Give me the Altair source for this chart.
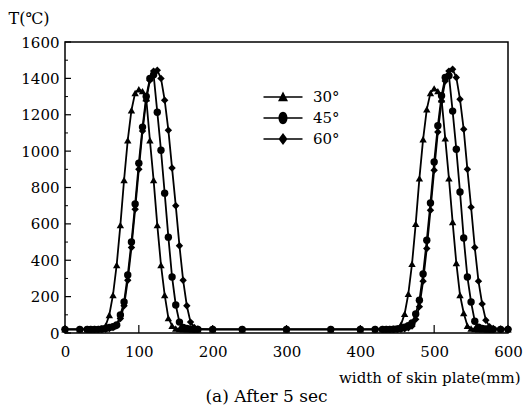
import altair as alt
import pandas as pd

# ---- data ----
x_mm = [
    0, 20, 30, 35, 40, 45, 50, 55, 60, 65,
    70, 75, 80, 85, 90, 95, 100, 105, 110, 115,
    120, 125, 130, 135, 140, 145, 150, 155, 160, 165,
    170, 175, 180, 200, 240, 300, 360, 400, 420, 430,
    435, 440, 445, 450, 455, 460, 465, 470, 475, 480,
    485, 490, 495, 500, 505, 510, 515, 520, 525, 530,
    535, 540, 545, 550, 555, 560, 565, 570, 575, 580,
    590, 600,
]
temp_30 = [
    20, 20, 20, 21, 22, 22, 25, 40, 99, 209,
    374, 593, 841, 1060, 1225, 1320, 1340, 1330, 1290, 1060,
    841, 593, 374, 209, 82, 40, 25, 22, 20, 20,
    20, 20, 20, 20, 20, 20, 20, 20, 20, 20,
    21, 22, 23, 26, 45, 105, 215, 380, 600, 850,
    1065, 1230, 1320, 1345, 1330, 1285, 1070, 850, 610, 385,
    209, 110, 40, 25, 22, 20, 20, 20, 20, 20,
    20, 20,
]
temp_45 = [
    20, 20, 20, 20, 20, 20, 22, 25, 30, 35,
    44, 99, 170, 319, 500, 709, 934, 1132, 1300, 1400,
    1420, 1214, 1005, 769, 527, 308, 154, 60, 30, 25,
    22, 20, 20, 20, 20, 20, 20, 20, 20, 20,
    20, 20, 21, 22, 26, 32, 40, 55, 105, 180,
    325, 510, 715, 940, 1140, 1305, 1405, 1415, 1220, 1010,
    775, 522, 308, 170, 65, 32, 25, 22, 20, 20,
    20, 20,
]
temp_60 = [
    20, 20, 20, 20, 20, 20, 21, 22, 25, 30,
    40, 80, 150, 290, 470, 680, 900, 1110, 1280, 1390,
    1440, 1445, 1400, 1280, 1115, 907, 700, 480, 290, 150,
    60, 30, 22, 20, 20, 20, 20, 20, 20, 20,
    20, 20, 20, 20, 21, 23, 28, 38, 75, 145,
    285, 465, 675, 895, 1105, 1275, 1385, 1440, 1450, 1405,
    1285, 1120, 900, 692, 470, 285, 160, 70, 35, 25,
    22, 22,
]
series_labels = ["30°", "45°", "60°"]
x_ticks = [0, 100, 200, 300, 400, 500, 600]
y_ticks = [0, 200, 400, 600, 800, 1000, 1200, 1400, 1600]
y_minor = [100, 300, 500, 700, 900, 1100, 1300, 1500]

rows = []
for lab, vals in zip(series_labels, [temp_30, temp_45, temp_60]):
    for xv, tv in zip(x_mm, vals):
        rows.append({"x": xv, "T": tv, "angle": lab})
df = pd.DataFrame(rows)

FONT = "DejaVu Serif"
xs = alt.Scale(domain=[0, 600], nice=False, zero=False)
ys = alt.Scale(domain=[0, 1600], nice=False)

x_axis = alt.Axis(
    values=x_ticks, ticks=False, domain=False, grid=False, format="d",
    labelFlush=False, labelOverlap=False,
    labelFont=FONT, labelFontSize=15, labelColor="black", labelPadding=11,
    title="width of skin plate(mm)", titleFont=FONT, titleFontSize=15,
    titleFontWeight="normal", titleColor="black", titleAlign="right",
    titleX=455, titleY=44, titleBaseline="middle",
)
y_axis = alt.Axis(
    values=y_ticks, ticks=False, domain=False, grid=False, format="d",
    labelFlush=False, labelOverlap=False,
    labelFont=FONT, labelFontSize=15, labelColor="black", labelPadding=6,
    title="T(℃)", titleFont=FONT, titleFontSize=16, titleFontWeight="normal",
    titleColor="black", titleAngle=0, titleAlign="left",
    titleX=-57, titleY=-24, titleBaseline="middle",
)

base = alt.Chart(df)

lines = base.mark_line(color="black", strokeWidth=1.8).encode(
    x=alt.X("x:Q", scale=xs, axis=x_axis),
    y=alt.Y("T:Q", scale=ys, axis=y_axis),
    detail="angle:N",
)

points = base.mark_point(filled=True, color="black", opacity=1, size=55).encode(
    x=alt.X("x:Q", scale=xs, axis=x_axis),
    y=alt.Y("T:Q", scale=ys, axis=y_axis),
    shape=alt.Shape("angle:N",
                    scale=alt.Scale(domain=series_labels,
                                    range=["triangle-up", "circle", "diamond"]),
                    legend=None),
)

bar = "M-1.95,-0.08L1.95,-0.08L1.95,0.08L-1.95,0.08Z"
tri = bar + "M0,-0.55L0.5,0.42L-0.5,0.42Z"
circ = bar + "M0.45,0A0.45,0.62 0 1,1 -0.45,0A0.45,0.62 0 1,1 0.45,0Z"
dia = bar + "M0,-0.6L0.45,0L0,0.6L-0.45,0Z"

legend_layer = base.mark_point(filled=True, color="black", opacity=0).encode(
    x=alt.X("x:Q", scale=xs, axis=x_axis),
    y=alt.Y("T:Q", scale=ys, axis=y_axis),
    shape=alt.Shape("angle:N",
                    scale=alt.Scale(domain=series_labels, range=[tri, circ, dia]),
                    legend=alt.Legend(title=None, orient="none", legendX=208, legendY=45,
                                      symbolSize=400, symbolFillColor="black",
                                      symbolStrokeColor="black", symbolStrokeWidth=0,
                                      symbolOpacity=1, labelFont=FONT, labelFontSize=15,
                                      labelColor="black", labelOffset=20, rowPadding=3)),
)

ytick_major = alt.Chart(pd.DataFrame({"v": y_ticks})).mark_rule(
    color="black", strokeWidth=1.2).encode(
    y=alt.Y("v:Q", scale=ys, axis=y_axis), x=alt.value(0), x2=alt.value(6))
ytick_minor = alt.Chart(pd.DataFrame({"v": y_minor})).mark_rule(
    color="black", strokeWidth=1.0).encode(
    y=alt.Y("v:Q", scale=ys, axis=y_axis), x=alt.value(0), x2=alt.value(3))
xtick_major = alt.Chart(pd.DataFrame({"v": x_ticks})).mark_rule(
    color="black", strokeWidth=1.2).encode(
    x=alt.X("v:Q", scale=xs, axis=x_axis), y=alt.value(291), y2=alt.value(283))

chart = alt.layer(
    lines, ytick_major, ytick_minor, xtick_major, points, legend_layer
).resolve_scale(shape="independent").properties(
    width=443, height=291,
    autosize=alt.AutoSizeParams(type="none"),
    padding={"left": 65, "top": 42, "right": 17, "bottom": 85},
    title=alt.TitleParams("(a) After 5 sec", orient="bottom", anchor="middle",
                          font=FONT, fontSize=17, fontWeight="normal",
                          color="black", offset=4, dx=-20),
).configure_view(stroke="black", strokeWidth=1.5)

chart.save("out.html", embed_options={"renderer": "svg", "actions": False})
